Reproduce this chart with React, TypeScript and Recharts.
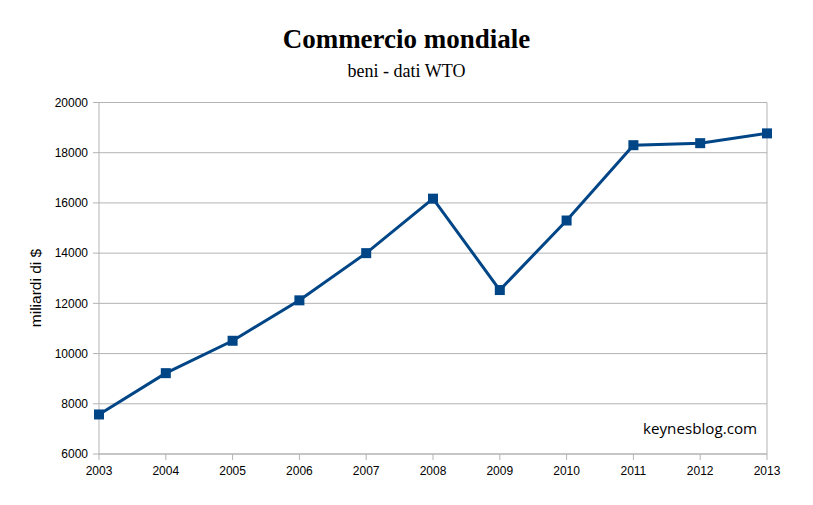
import React from 'react'
import { LineChart, Line, XAxis, YAxis, CartesianGrid, ReferenceLine } from 'recharts'

// Commercio mondiale, beni (dati WTO), miliardi di $
const years = ['2003', '2004', '2005', '2006', '2007', '2008', '2009', '2010', '2011', '2012', '2013']
const values = [7575, 9220, 10510, 12120, 14000, 16170, 12530, 15300, 18300, 18380, 18770]
const yTicks = [6000, 8000, 10000, 12000, 14000, 16000, 18000, 20000]

const data = years.map((y, i) => ({ year: y, value: values[i] }))

const W = 813
const H = 505
const GRID = '#b3b3b3'
const BLUE = '#004586'
const SANS = '"Liberation Sans", Arial, sans-serif'

const SquareDot = (props: any) => {
  const { cx, cy } = props
  if (cx == null || cy == null) return null
  return <rect x={cx - 5} y={cy - 5} width={10} height={10} fill={BLUE} />
}

export default function App() {
  return (
    <div style={{ position: 'absolute', left: 0, top: 0, width: W, height: H, background: '#fff' }}>
      <div style={{ position: 'absolute', left: 0, top: 24, width: W, textAlign: 'center', fontFamily: '"Liberation Serif", serif', fontWeight: 'bold', fontSize: 27, lineHeight: '30px', color: '#000' }}>
        Commercio mondiale
      </div>
      <div style={{ position: 'absolute', left: 0, top: 60, width: W, textAlign: 'center', fontFamily: '"Liberation Serif", serif', fontSize: 18, lineHeight: '22px', color: '#000' }}>
        beni - dati WTO
      </div>
      <div style={{ position: 'absolute', left: 36, top: 288, transform: 'translate(-50%, -50%) rotate(-90deg)', whiteSpace: 'nowrap', fontFamily: SANS, fontSize: 15.5, color: '#000' }}>
        miliardi di $
      </div>
      <LineChart width={W} height={H} data={data} margin={{ top: 102.5, right: 46, bottom: 21, left: 0 }}>
        <CartesianGrid vertical={false} stroke={GRID} strokeWidth={1} />
        <XAxis
          dataKey="year"
          height={30}
          stroke={GRID}
          tickSize={6}
          tick={{ fill: '#000', fontSize: 12, fontFamily: SANS }}
          tickMargin={6}
          interval={0}
        />
        <YAxis
          domain={[6000, 20000]}
          ticks={yTicks}
          width={99}
          stroke={GRID}
          tickSize={6}
          tickMargin={5}
          tick={{ fill: '#000', fontSize: 12, fontFamily: SANS }}
          interval={0}
        />
        <ReferenceLine x="2013" stroke={GRID} />
        <Line
          dataKey="value"
          stroke={BLUE}
          strokeWidth={3}
          dot={<SquareDot />}
          activeDot={false}
          isAnimationActive={false}
        />
      </LineChart>
      <div style={{ position: 'absolute', left: 643, top: 418, fontFamily: '"Open Sans", Carlito, sans-serif', fontSize: 15.2, color: '#000', whiteSpace: 'nowrap' }}>
        keynesblog.com
      </div>
    </div>
  )
}
